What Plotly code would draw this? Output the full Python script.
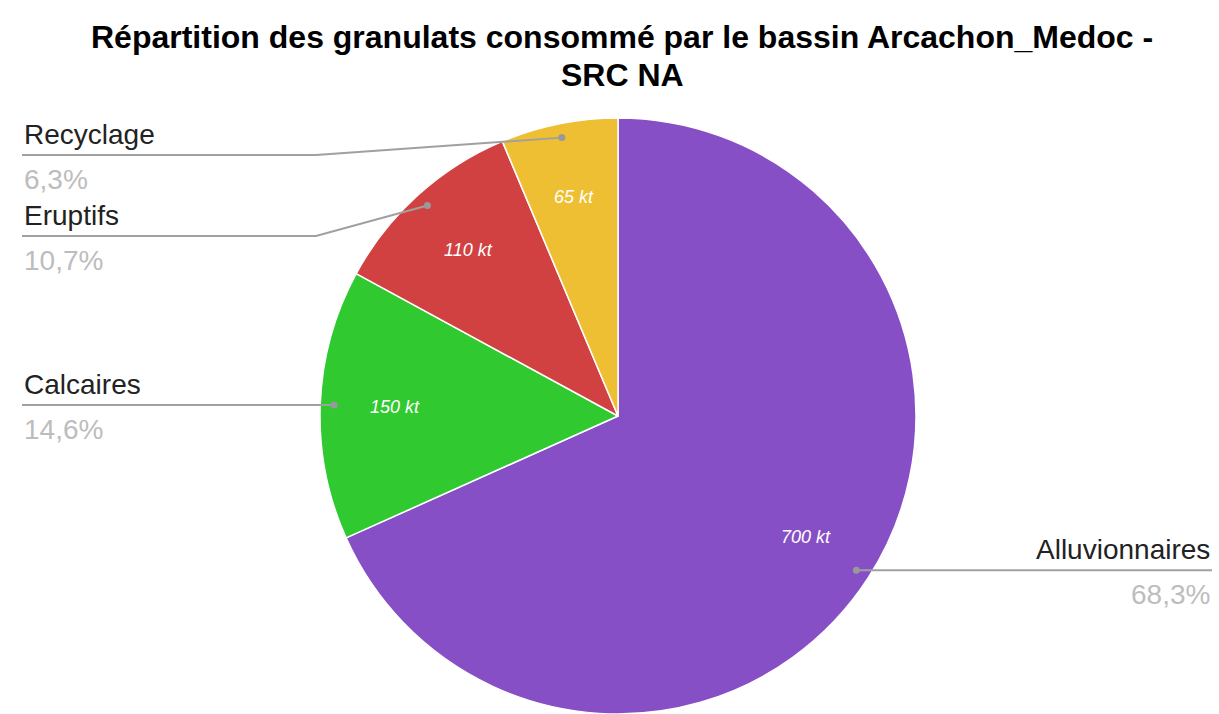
import math
import plotly.graph_objects as go

# ---- data ----
categories = ["Alluvionnaires", "Calcaires", "Eruptifs", "Recyclage"]
values_kt = [700, 150, 110, 65]
colors = ["#874fc6", "#30c930", "#d24141", "#eebf33"]
title_lines = ["Répartition des granulats consommé par le bassin Arcachon_Medoc -", "SRC NA"]

W, H = 1219, 714
CX, R = 618, 298
CY = H - R  # pie touches the bottom edge

FONT = "Liberation Sans, Arial, sans-serif"

fig = go.Figure(go.Pie(
    labels=categories,
    values=values_kt,
    sort=False,
    direction="clockwise",
    rotation=0,
    marker=dict(colors=colors, line=dict(color="white", width=1.5)),
    textinfo="none",
    hoverinfo="label+value+percent",
    showlegend=False,
    domain=dict(x=[(CX - R) / W, (CX + R) / W], y=[0, 2 * R / H]),
))

def px(x):
    return x / W

def py(y):
    return 1 - y / H

total = sum(values_kt)
annotations = []
shapes = []
cum = 0.0
left_items = []
right_items = []
for name, v in zip(categories, values_kt):
    frac = v / total
    mid = (cum + frac / 2) * 2 * math.pi
    cum += frac
    s, c = math.sin(mid), math.cos(mid)
    # value label inside the slice
    lx, ly = CX + 0.75 * R * s, CY - 0.75 * R * c
    annotations.append(dict(
        x=px(lx), y=py(ly), xref="paper", yref="paper", showarrow=False,
        text=f"<i>{v} kt</i>", font=dict(family=FONT, size=18, color="white"),
        xanchor="center", yanchor="middle"))
    dx, dy = CX + 0.953 * R * s, CY - 0.953 * R * c
    pct = f"{frac * 100:.1f}%".replace(".", ",")
    item = dict(name=name, pct=pct, dx=dx, dy=dy)
    (right_items if s > 0 else left_items).append(item)

LINE_COL = "#a0a0a0"

def draw_item(it, line_y, side):
    dx, dy = it["dx"], it["dy"]
    if side == "left":
        end_x, bend_x = 22, min(316, dx)
        anchor = "left"
    else:
        end_x, bend_x = 1212, max(dx, 860)
        anchor = "right"
    path = f"M {px(end_x)},{py(line_y)} L {px(bend_x)},{py(line_y)} L {px(dx)},{py(dy)}"
    shapes.append(dict(type="path", path=path, xref="paper", yref="paper",
                       line=dict(color=LINE_COL, width=2)))
    shapes.append(dict(type="circle", xref="paper", yref="paper",
                       xsizemode="pixel", ysizemode="pixel",
                       xanchor=px(dx), yanchor=py(dy),
                       x0=-3.5, x1=3.5, y0=-3.5, y1=3.5,
                       fillcolor="#999999", line=dict(width=0)))
    annotations.append(dict(
        x=px(end_x), y=py(line_y - 3), xref="paper", yref="paper", showarrow=False,
        text=it["name"], font=dict(family=FONT, size=28, color="#222222"),
        xanchor=anchor, yanchor="bottom"))
    annotations.append(dict(
        x=px(end_x), y=py(line_y + 7), xref="paper", yref="paper", showarrow=False,
        text=it["pct"], font=dict(family=FONT, size=28, color="#bdbdbd"),
        xanchor=anchor, yanchor="top"))

# left side: top to bottom with minimum spacing
left_items.sort(key=lambda d: d["dy"])
prev = None
for it in left_items:
    y = max(it["dy"], 155)
    if prev is not None:
        y = max(y, prev + 81)
    draw_item(it, y, "left")
    prev = y
for it in right_items:
    draw_item(it, it["dy"], "right")

# title (two centred lines)
for line, yc in zip(title_lines, [37, 75]):
    annotations.append(dict(
        x=px(622), y=py(yc), xref="paper", yref="paper", showarrow=False,
        text=f"<b>{line}</b>", font=dict(family=FONT, size=32, color="#000000"),
        xanchor="center", yanchor="middle"))

fig.update_layout(
    width=W, height=H,
    margin=dict(l=0, r=0, t=0, b=0),
    paper_bgcolor="white", plot_bgcolor="white",
    annotations=annotations,
    shapes=shapes,
)

fig.write_html("out.html", config={"displayModeBar": False},
               post_script="document.body.style.margin='0';document.body.style.overflow='hidden';")
